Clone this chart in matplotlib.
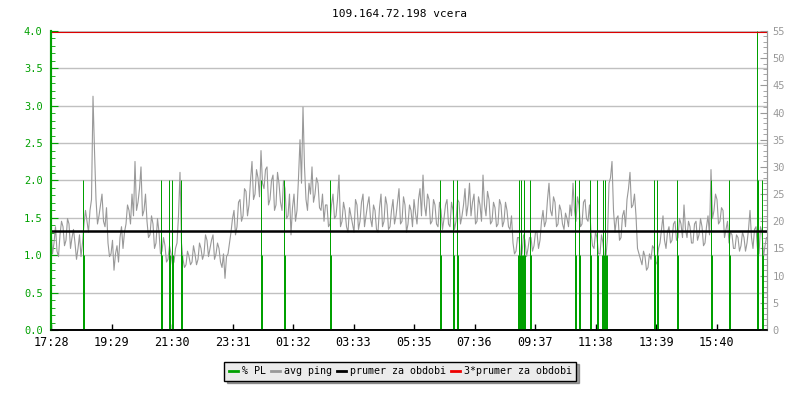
import matplotlib
matplotlib.use("Agg")
import matplotlib.pyplot as plt
import numpy as np
from matplotlib.ticker import MultipleLocator, FormatStrFormatter

# avg ping (ms), read every 6 minutes from 17:28 ...
ping = [
    18.5, 16, 14.5, 17.5, 19, 16.5, 19.5, 17, 16, 15, 13.5, 19.5, 20, 22, 43, 24, 21, 25, 19, 16,
    14, 11, 15.5, 17, 15, 19.5, 22, 25, 31, 23.5, 30, 22, 20, 17.5, 19.5, 16, 18, 14.5, 15.5, 13,
    14, 12.5, 16, 29, 13, 12, 13.5, 12.5, 14, 13, 15, 14, 16.5, 15, 17.5, 14, 15, 11.5, 9.5, 14,
    18, 22, 19, 24, 21, 25.5, 23, 31, 25, 28, 33, 26, 30, 24, 28.5, 23, 27, 22, 26, 21,
    17.5, 25, 22, 35, 41, 24, 27, 30, 25, 27, 22, 20, 23, 19.5, 25, 21, 28.5, 20, 22, 18,
    21, 18, 23, 20, 25, 21, 24.5, 19, 22, 18, 25, 20, 23, 19, 24, 21, 26, 20, 23, 19.5,
    22, 24, 19.5, 26, 28.5, 21, 24, 20, 23, 19, 22, 20.5, 24, 19, 22, 20, 23.5, 21, 26, 23,
    21, 25, 20, 23, 28.5, 21, 24, 20, 22.5, 19.5, 23, 20, 22, 18.5, 16, 14.5, 17, 14, 16.5, 15,
    17, 15.5, 18, 16.5, 22, 20, 27, 21, 23.5, 19.5, 22, 18.5, 20.5, 23, 27, 20, 23, 19.5, 24, 20,
    18, 15, 17, 14, 16, 13.5, 27, 31, 18, 21, 17, 22, 24, 29, 23, 21, 14, 12, 13.5, 11.5,
    13, 15, 12.5, 16, 21, 15, 19, 16.5, 20, 17, 19.5, 23, 17, 19, 16, 20, 17.5, 19, 16, 21,
    29.5, 22, 24, 20, 22, 18.5, 16, 17.5, 15, 17, 15.5, 17, 16, 22, 15, 19, 14, 18, 15.5,
]
# ... and the samples 3 minutes after each of those
ping_mid = [
    14, 19, 13.5, 20, 15.5, 20.5, 15, 18.5, 13, 17.5, 16, 22, 18, 24, 33, 19.5, 23, 20, 22.5, 13.5,
    16.5, 14, 12.5, 19, 18, 23, 19.5, 21, 22, 26, 21, 25, 17, 21, 15, 20.5, 14, 17, 12.5, 15.5,
    12, 15, 21, 16, 11.5, 14.5, 12, 15.5, 12, 16, 13, 17.5, 13.5, 16.5, 13, 16, 12.5, 14, 13.5, 16,
    20.5, 17.5, 23.5, 20, 26, 21, 27.5, 24, 29.5, 24.5, 27, 29.5, 23, 27.5, 22, 29, 23.5, 27.5, 20.5, 25,
    22.5, 20, 28, 27, 30, 22, 25, 23.5, 28, 22.5, 25, 23, 19, 23, 20.5, 24, 19, 23.5, 19, 22.5,
    19.5, 24, 18.5, 23.5, 19, 23, 20.5, 23, 18.5, 22.5, 19, 24.5, 18.5, 22, 19.5, 23.5, 19.5, 24.5, 18, 23,
    19, 21.5, 24, 21, 23, 25, 19.5, 24, 19.5, 23.5, 18.5, 23, 19.5, 23.5, 18.5, 24, 19.5, 23, 21, 27,
    23.5, 19.5, 24.5, 20, 23, 25.5, 19.5, 23.5, 19, 24, 19, 23.5, 19, 21, 14, 17, 13.5, 17.5, 13.5, 17,
    14.5, 18, 15, 20, 19, 24, 22, 24.5, 19, 23, 19.5, 21.5, 19, 21, 22, 24.5, 19, 23.5, 20.5, 23,
    15.5, 18, 14, 17.5, 13, 17, 28, 22, 20.5, 16.5, 21, 19, 26, 22.5, 25, 15, 13, 14.5, 11, 14,
    15.5, 12, 15, 18.5, 16.5, 18, 16, 19.5, 16.5, 20.5, 17, 18.5, 20, 16, 19.5, 16.5, 20.5, 15.5, 19, 17.5,
    20.5, 25, 19.5, 22.5, 17, 20, 18, 15, 17.5, 14.5, 18, 14.5, 18.5, 17, 18.5, 15, 19, 13.5, 17,
]

# packet loss (%) samples, minutes from 17:28
pl_min = [63, 65, 219, 221, 235, 237, 241, 243, 260, 262, 419, 421, 466, 468, 558, 560,
          778, 780, 803, 805, 811, 813, 934, 936, 938, 940, 942, 944, 946, 948, 958, 960,
          1048, 1050, 1055, 1057, 1078, 1080, 1091, 1093, 1102, 1104, 1106, 1108, 1110, 1112,
          1205, 1207, 1211, 1213, 1251, 1253, 1320, 1322, 1356, 1358, 1411, 1413, 1421, 1423]
pl_val = [2, 1, 2, 1, 2, 1, 2, 1, 2, 1, 2, 1, 2, 1, 2, 1,
          2, 1, 2, 1, 2, 1, 1, 2, 1, 2, 1, 1, 2, 1, 2, 1,
          2, 1, 2, 1, 2, 1, 2, 1, 1, 2, 1, 2, 1, 1,
          2, 1, 2, 1, 2, 1, 2, 1, 2, 1, 4, 2, 2, 1]

prumer = 18.3
tick_labels = ["17:28", "19:29", "21:30", "23:31", "01:32", "03:33", "05:35",
               "07:36", "09:37", "11:38", "13:39", "15:40"]

green = "#00a000"
grey = "#999999"
mono = "DejaVu Sans Mono"

t = np.concatenate([np.arange(len(ping)) * 6, np.arange(len(ping_mid)) * 6 + 3])
v = np.concatenate([ping, ping_mid])
order = np.argsort(t)

fig = plt.figure(figsize=(8, 4), dpi=100)
ax = fig.add_axes([51 / 800, 70 / 400, 716 / 800, 299 / 400])
ax2 = ax.twinx()

ax.set_xlim(0, 1432)
ax.set_ylim(0, 4)

ax.yaxis.grid(True, color="#c0c0c0", lw=1)
ax.set_axisbelow(True)

ax2.plot(t[order], v[order], color=grey, lw=0.8)
# packet loss uses the left scale but is drawn above the ping line
ax2.vlines(pl_min, 0, pl_val, color=green, lw=0.72, snap=True,
           transform=ax.transData)
ax2.set_xlim(0, 1432)
ax2.set_ylim(0, 55)
ax2.axhline(prumer, color="black", lw=1.8)
ax2.axhline(3 * prumer, color="#dd0000", lw=0.8)

ax.set_xticks(np.arange(len(tick_labels)) * 121)
ax.set_xticklabels(tick_labels, fontfamily=mono, fontsize=8.5)
ax.yaxis.set_major_locator(MultipleLocator(0.5))
ax.yaxis.set_minor_locator(MultipleLocator(0.1))
ax.yaxis.set_major_formatter(FormatStrFormatter("%.1f"))
ax2.yaxis.set_major_locator(MultipleLocator(5))
ax2.yaxis.set_minor_locator(MultipleLocator(1))

ax.tick_params(axis="x", direction="in", length=4, width=1, colors="black", pad=4)
ax.tick_params(axis="y", which="major", direction="in", length=5, color=green,
               labelcolor=green, labelsize=7.5, pad=6)
ax.tick_params(axis="y", which="minor", direction="in", length=3, color=green)
ax2.tick_params(axis="y", which="major", direction="in", length=5, color=grey,
                labelcolor=grey, labelsize=7.5, pad=4)
ax2.tick_params(axis="y", which="minor", direction="in", length=3, color=grey)
for lab in ax.get_yticklabels() + ax2.get_yticklabels():
    lab.set_fontfamily(mono)

for a in (ax, ax2):
    a.spines["top"].set_visible(False)
    a.spines["left"].set_color(green)
    a.spines["left"].set_linewidth(1.5)
    a.spines["right"].set_color(grey)
    a.spines["bottom"].set_color("black")
    a.spines["bottom"].set_linewidth(1.2)

fig.text(0.5, 1 - 14 / 400, "109.164.72.198 vcera", ha="center", va="center",
         fontfamily=mono, fontsize=8)

handles = [plt.Line2D([], [], color=c, lw=2) for c in (green, grey, "black", "#ee0000")]
labels = ["% PL", "avg ping", "prumer za obdobi", "3*prumer za obdobi"]
leg = fig.legend(handles, labels, loc="center", bbox_to_anchor=(0.5, 1 - 371 / 400),
                 ncol=4, frameon=True, fancybox=False, shadow=True,
                 prop={"family": mono, "size": 7.2}, handlelength=0.9, handletextpad=0.4,
                 columnspacing=0.5, borderpad=0.45)
leg.get_frame().set_edgecolor("black")
leg.get_frame().set_facecolor("#ebebeb")
leg.get_frame().set_linewidth(1)

plt.savefig("out.png", dpi=100)
